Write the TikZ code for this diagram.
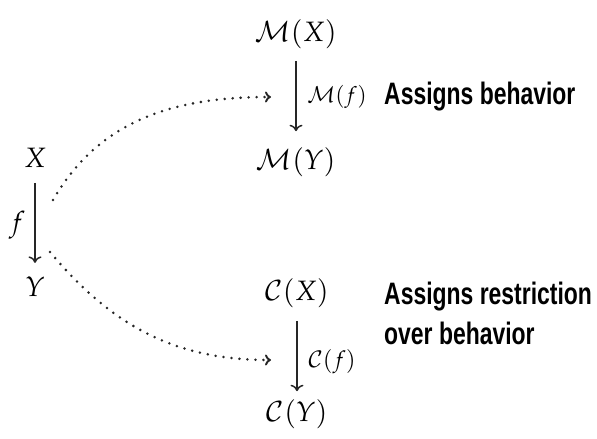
\documentclass[tikz,border=0pt]{standalone}
\usepackage{fontspec}
\usepackage{mathpazo}
\usetikzlibrary{arrows.meta}
\newfontfamily\labfont[FakeStretch=0.74]{Liberation Sans}
\begin{document}
\begin{tikzpicture}[x=1pt,y=-1pt,
  mth/.style={inner sep=0pt,font=\fontsize{28}{30}\selectfont},
  lbl/.style={inner sep=0pt,font=\fontsize{22}{24}\selectfont},
  txt/.style={inner sep=0pt,font=\labfont\bfseries\fontsize{31}{40}\selectfont,align=left,text=black},
  mapto/.style={line width=1.5pt,draw=black!85,-{To[length=6.5pt,width=13pt]}},
  dots/.style={line width=2.8pt,draw=black!85,line cap=round,dash pattern=on 0pt off 8pt,
    -{To[length=6pt,width=11pt,line width=1.9pt]}}]
\useasboundingbox (0,0) rectangle (597,439);
% objects
\node[mth] (MX) at (296,34) {$\mathcal{M}(X)$};
\node[mth] (MY) at (296,162) {$\mathcal{M}(Y)$};
\node[mth] (CX) at (297,293) {$\mathcal{C}(X)$};
\node[mth] (CY) at (297,414) {$\mathcal{C}(Y)$};
\node[mth] (X) at (35,158) {$X$};
\node[mth] (Y) at (35,287) {$Y$};
% vertical maps
\draw[mapto,shorten <=12pt,shorten >=16pt] (MX.south) -- (MY.north);
\draw[mapto,shorten <=13pt,shorten >=8pt] (CX.south) -- (CY.north);
\draw[mapto,shorten <=15pt,shorten >=14pt] (X.south) -- (Y.north);
% labels
\node[mth] (f) at (17,225) {$f$};
\node[lbl] (Mf) at (337,97) {$\mathcal{M}(f)$};
\node[lbl,font=\fontsize{23}{25}\selectfont] (Cf) at (332,362) {$\mathcal{C}(f)$};
% texts
\node[txt,anchor=base west] (t1) at (384,104) {Assigns behavior};
\node[txt,anchor=north west] (t2) at (384,282) {Assigns restriction\\over behavior};
% dotted connectors
\coordinate (s1) at (53,200);
\coordinate (e1) at (271,97);
\coordinate (s2) at (50,252);
\coordinate (e2) at (271,360);
\draw[dots] (s1) to[out=60,in=180] (e1);
\draw[dots] (s2) to[out=-50,in=180] (e2);
\end{tikzpicture}
\end{document}
